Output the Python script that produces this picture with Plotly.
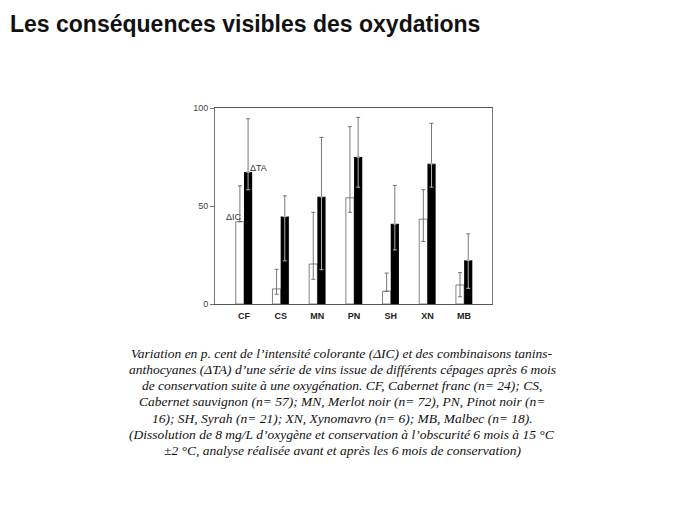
import plotly.graph_objects as go

categories = ["CF", "CS", "MN", "PN", "SH", "XN", "MB"]
delta_ic = [42.0, 7.7, 20.4, 54.2, 6.5, 43.3, 9.7]
delta_ic_high = [60.3, 17.7, 46.8, 90.5, 15.8, 58.3, 16.0]
delta_ic_low = [42.0, 5.0, 12.6, 46.8, 6.5, 31.9, 3.7]
delta_ta = [67.3, 44.6, 54.7, 75.0, 40.9, 71.5, 22.3]
delta_ta_high = [94.5, 55.2, 85.0, 95.2, 60.5, 92.2, 35.8]
delta_ta_low = [58.3, 22.0, 17.5, 59.6, 27.6, 59.6, 8.0]
y_ticks = [0, 50, 100]

title_text = "Les conséquences visibles des oxydations"
caption_lines = [
    "Variation en p. cent de l’intensité colorante (ΔIC) et des combinaisons tanins-",
    "anthocyanes (ΔTA) d’une série de vins issue de différents cépages après 6 mois",
    "de conservation suite à une oxygénation. CF, Cabernet franc (n= 24); CS,",
    "Cabernet sauvignon (n= 57); MN, Merlot noir (n= 72), PN, Pinot noir (n=",
    "16); SH, Syrah (n= 21); XN, Xynomavro (n= 6); MB, Malbec (n= 18).",
    "(Dissolution de 8 mg/L d’oxygène et conservation à l’obscurité 6 mois à 15 °C",
    "±2 °C, analyse réalisée avant et après les 6 mois de conservation)",
]

OFF = 8  # page body margin
W, H = 689, 517
L, R, T, B = 215 - OFF, 492 - OFF, 108 - OFF, 304 - OFF

ic_up = [h - v for h, v in zip(delta_ic_high, delta_ic)]
ic_dn = [v - l for v, l in zip(delta_ic, delta_ic_low)]
ta_up = [h - v for h, v in zip(delta_ta_high, delta_ta)]
ta_dn = [v - l for v, l in zip(delta_ta, delta_ta_low)]

fig = go.Figure()
fig.add_trace(go.Bar(
    x=categories, y=delta_ic, name="ΔIC", offsetgroup="ic",
    marker=dict(color="white", line=dict(color="#666666", width=0.8)),
    error_y=dict(type="data", symmetric=False, array=ic_up, arrayminus=ic_dn,
                 color="#555555", thickness=0.8, width=2),
))
fig.add_trace(go.Bar(
    x=categories, y=delta_ta, name="ΔTA", offsetgroup="ta",
    marker=dict(color="black", line=dict(width=0)),
    error_y=dict(type="data", symmetric=False, array=ta_up, arrayminus=[0] * 7,
                 color="#555555", thickness=0.8, width=2),
))
fig.add_trace(go.Bar(
    x=categories, y=delta_ta, name="ΔTA low", offsetgroup="ta",
    marker=dict(color="rgba(0,0,0,0)", line=dict(width=0)),
    error_y=dict(type="data", symmetric=False, array=[0] * 7, arrayminus=ta_dn,
                 color="#dddddd", thickness=0.8, width=2),
))

def py(ypix):
    return (B - (ypix - OFF)) / (B - T)

def px(xpix):
    return ((xpix - OFF) - L) / (R - L)

annotations = []
for i, line in enumerate(caption_lines):
    annotations.append(dict(
        text=line, xref="paper", yref="paper", x=px(342), y=py(353 + i * 16.3),
        xanchor="center", yanchor="middle", showarrow=False,
        font=dict(family="Liberation Serif", size=13.5, color="#111111", style="italic"),
    ))
annotations.append(dict(text="ΔTA", x="CF", xref="x", y=py(168), yref="paper",
                        xshift=15, xanchor="center", yanchor="middle", showarrow=False,
                        font=dict(family="Liberation Sans", size=9, color="#333333")))
annotations.append(dict(text="ΔIC", x="CF", xref="x", y=py(217), yref="paper",
                        xshift=-10, xanchor="center", yanchor="middle", showarrow=False,
                        font=dict(family="Liberation Sans", size=9, color="#333333")))

fig.update_layout(
    width=W, height=H,
    margin=dict(l=L, r=W - R, t=T, b=H - B, pad=0),
    paper_bgcolor="white", plot_bgcolor="white",
    barmode="group", bargap=0.553, bargroupgap=0,
    showlegend=False,
    title=dict(text="<b>" + title_text + "</b>", x=(10 - OFF) / W, xanchor="left",
               y=1 - (24 - OFF) / H, yanchor="middle",
               font=dict(family="Liberation Sans", size=23, color="#111111")),
    annotations=annotations,
    xaxis=dict(range=[-0.79, 6.76], showgrid=False, zeroline=False,
               showline=True, linecolor="#555555", linewidth=1, mirror=True,
               ticks="", ticklabelstandoff=3,
               tickfont=dict(family="Liberation Sans", size=9, color="#222222"),
               tickprefix="<b>", ticksuffix="</b>"),
    yaxis=dict(range=[0, 100], tickvals=y_ticks, showgrid=False, zeroline=False,
               showline=True, linecolor="#777777", linewidth=1, mirror=True,
               ticks="outside", ticklen=4, tickcolor="#777777",
               tickfont=dict(family="Liberation Sans", size=9, color="#444444")),
)

fig.write_html("out.html")
